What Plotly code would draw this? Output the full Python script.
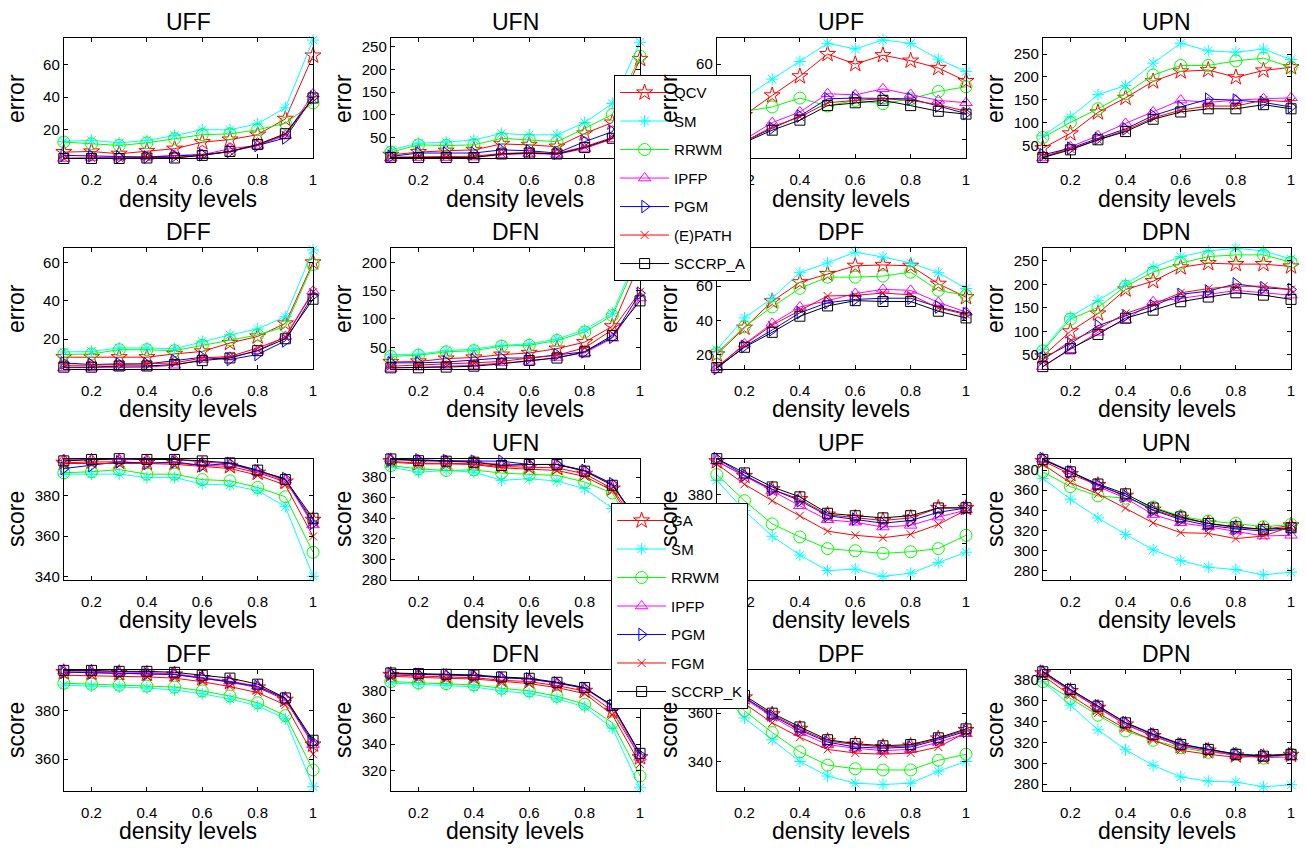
import plotly.graph_objects as go

density = [0.1, 0.2, 0.3, 0.4, 0.5, 0.6, 0.7, 0.8, 0.9, 1.0]
x_ticks = [0.2, 0.4, 0.6, 0.8, 1.0]
x_ticktext = ["0.2", "0.4", "0.6", "0.8", "1"]

err_methods = ["QCV", "SM", "RRWM", "IPFP", "PGM", "(E)PATH", "SCCRP_A"]
score_methods = ["GA", "SM", "RRWM", "IPFP", "PGM", "FGM", "SCCRP_K"]

# series order: first, SM, RRWM, IPFP, PGM, sixth, SCCRP
uff_err = [
    [6.3, 6.7, 5.3, 7.0, 8.4, 12.4, 14.0, 17.0, 26.7, 65.5],
    [12.9, 13.5, 12.0, 13.5, 16.5, 20.0, 20.0, 23.7, 33.5, 75.0],
    [12.5, 11.4, 10.4, 12.0, 14.5, 17.0, 17.5, 20.0, 24.0, 36.5],
    [2.4, 3.0, 3.2, 3.3, 4.3, 4.7, 8.4, 10.4, 16.5, 42.0],
    [4.3, 4.0, 3.3, 3.3, 4.0, 4.7, 6.7, 10.4, 15.0, 40.0],
    [2.6, 2.6, 2.5, 3.0, 3.0, 4.5, 6.5, 10.8, 17.0, 39.0],
    [2.4, 2.4, 2.4, 2.7, 2.7, 4.3, 6.7, 11.0, 17.6, 39.5],
]
ufn_err = [
    [12, 18, 21, 23, 36, 34, 30, 59, 83, 223],
    [23, 37.6, 40, 45, 59, 56, 56, 83, 125, 260],
    [18, 34, 32.5, 34, 48.5, 45, 41, 70, 101, 229],
    [5, 6, 6, 7, 12, 15, 13, 26, 47, 155],
    [8.5, 16, 16, 16, 23, 21, 16, 41, 63, 165],
    [7, 8, 8, 9, 15, 17, 15, 30, 50, 160],
    [6, 6, 6, 6, 14, 16, 14, 28, 48.5, 158],
]
upf_err = [
    [25, 33, 43.4, 53.5, 65.3, 60, 64.7, 61.8, 57.9, 51],
    [33, 42, 52, 61.4, 71, 68, 72.8, 71, 62.6, 56],
    [27, 35, 37.3, 42, 37.8, 40.8, 39, 41.6, 45.5, 48],
    [13, 20, 29, 34.6, 44.3, 43.7, 46.9, 43.9, 40.8, 39.5],
    [12, 19, 26, 32.5, 41.6, 42, 42, 41.6, 37.8, 33.8],
    [12, 19, 26.8, 32, 39.5, 40.8, 41.6, 40.8, 38.5, 35],
    [11, 18.5, 25, 30.3, 38, 39.5, 40.8, 38, 35, 33.5],
]
upn_err = [
    [43.5, 76, 122, 154, 190, 212, 215, 199, 214, 221],
    [71, 112, 161, 181, 230, 274, 257, 254, 261, 238],
    [67, 100, 130, 163, 204, 225, 225, 235, 241, 221],
    [22, 47, 71, 98, 123, 149, 144, 149, 152, 154],
    [29, 43.5, 65, 86, 115, 134, 151, 149, 144, 134],
    [25, 42, 62, 83, 110, 127, 136, 136, 149, 145],
    [23, 40, 62, 80, 107, 123, 130, 130, 139, 130],
]
dff_err = [
    [10.6, 10.6, 10.6, 10.6, 12.3, 13.6, 18.0, 21.4, 28.2, 60.0],
    [13.3, 13.6, 15.4, 15.4, 15.0, 18.8, 22.2, 25.3, 31.7, 66.5],
    [12.0, 12.3, 14.5, 14.5, 14.0, 16.7, 19.7, 22.2, 26.5, 59.0],
    [5.0, 5.0, 5.2, 5.4, 6.4, 9.4, 10.6, 14.0, 21.4, 45.0],
    [7.6, 6.8, 7.1, 7.1, 8.8, 10.6, 9.4, 12.0, 19.1, 42.8],
    [6.4, 6.4, 6.8, 7.1, 7.6, 10.2, 11.0, 15.4, 20.9, 44.5],
    [5.4, 5.4, 6.0, 6.0, 6.8, 8.8, 10.2, 14.0, 20.2, 40.8],
]
dfn_err = [
    [24, 25, 30, 32, 37, 40, 47.6, 59, 87, 200],
    [37, 38, 44, 47, 53.5, 56, 64.6, 81, 110, 225],
    [34, 36, 42, 44, 52, 53.5, 62, 77, 106, 215],
    [12.5, 15, 16.6, 18, 22.5, 25, 32, 40, 66, 137],
    [22.5, 22.5, 24, 28, 31, 31, 37, 42, 67.6, 145.5],
    [16.6, 18, 20.7, 22.5, 25, 31, 36, 49, 81, 148],
    [13.7, 13.7, 15, 16.6, 20.7, 26.6, 31, 42, 71, 132],
]
dpf_err = [
    [20.2, 35.8, 51.2, 62.3, 67.1, 71.9, 72.4, 71.9, 61.4, 53.6],
    [23.0, 41.5, 53.1, 67.9, 73.6, 79.9, 77.0, 73.6, 67.9, 58.7],
    [21.1, 36.4, 47.9, 58.8, 65.3, 65.3, 65.9, 68.2, 57.6, 54.7],
    [12.5, 26.3, 38.3, 47.9, 51.6, 55.7, 58.2, 57.6, 50.6, 44.9],
    [12.0, 24.9, 34.5, 44.5, 50.4, 52.3, 53.0, 53.0, 47.9, 44.0],
    [12.9, 25.9, 37.3, 46.0, 54.3, 54.7, 56.0, 55.0, 47.3, 43.5],
    [12.5, 24.4, 33.1, 42.5, 48.5, 51.6, 51.1, 51.1, 45.4, 41.5],
]
dpn_err = [
    [47, 100, 138, 189, 206.7, 236, 245, 243, 243, 238],
    [61, 131, 166, 201, 236, 259, 271, 276.6, 271, 254],
    [58.5, 126, 150.7, 196, 226, 245, 259, 262.6, 262.6, 247],
    [25, 61, 98, 124, 163, 170, 178.7, 187, 182, 177],
    [42.4, 73.9, 112, 133, 154, 178.7, 185.7, 201, 192.7, 189],
    [39, 79.4, 105, 138, 157.7, 182, 191, 196, 196, 189],
    [25, 63, 93.4, 128, 145, 163, 173, 182, 177, 168],
]
uff_score = [
    [396.3, 396.8, 396.8, 396.3, 396.3, 395.0, 394.6, 391.4, 387.0, 368.0],
    [390.7, 390.7, 390.7, 389.0, 389.0, 385.8, 385.3, 382.5, 374.6, 340.0],
    [391.4, 391.9, 393.0, 390.7, 390.7, 388.0, 387.4, 384.1, 379.5, 351.9],
    [398.0, 398.0, 398.0, 398.0, 398.0, 396.8, 395.8, 391.9, 387.7, 365.5],
    [393.5, 395.0, 396.8, 396.0, 396.8, 395.0, 396.0, 392.3, 388.5, 366.3],
    [396.0, 396.0, 396.3, 396.0, 395.6, 394.6, 393.5, 390.2, 385.3, 359.8],
    [397.3, 398.0, 398.4, 398.0, 398.0, 397.3, 396.3, 392.7, 388.0, 368.8],
]
ufn_score = [
    [395.5, 393.5, 393.5, 392.9, 390.3, 389.7, 389.0, 383.2, 368.7, 330],
    [389.7, 384.8, 386.5, 384.8, 376.8, 378.4, 376.1, 368.7, 349.4, 300],
    [391.3, 388.0, 386.5, 387.0, 383.9, 382.6, 381.6, 375.2, 364.5, 318],
    [397.5, 396.5, 396.0, 395.0, 392.0, 392.5, 392.5, 386.5, 373.0, 330],
    [396.8, 396.8, 396.0, 395.5, 395.5, 392.3, 392.3, 386.5, 373.5, 333],
    [394.5, 392.9, 392.9, 392.3, 389.0, 388.0, 386.5, 380.6, 367.0, 325],
    [397.7, 396.0, 395.5, 394.5, 391.3, 392.3, 392.3, 385.8, 372.0, 335],
]
upf_score = [
    [393.9, 387.8, 382.3, 378.2, 371.8, 370.5, 369.4, 370.5, 374.6, 374.6],
    [386.0, 373.5, 362.9, 355.1, 348.7, 349.3, 346.3, 347.6, 352.0, 356.3],
    [388.4, 377.6, 368.0, 362.6, 357.8, 356.9, 355.8, 356.5, 357.8, 363.3],
    [394.0, 387.8, 381.6, 375.5, 369.7, 368.7, 366.7, 367.4, 370.8, 373.7],
    [395.0, 388.2, 382.3, 377.6, 371.4, 370.0, 368.3, 369.4, 372.8, 374.6],
    [392.8, 384.4, 377.6, 371.4, 365.0, 363.3, 362.3, 363.7, 367.8, 373.7],
    [395.0, 389.1, 383.3, 379.2, 372.4, 371.4, 370.5, 371.4, 374.6, 374.7],
]
upn_score = [
    [389.2, 376.1, 365.2, 354.4, 340.6, 332.4, 326.9, 322.6, 321.0, 324.9],
    [371.8, 351.1, 332.4, 316.0, 300.6, 289.8, 283.2, 280.9, 275.7, 278.3],
    [378.4, 363.6, 354.4, 352.1, 343.3, 334.1, 329.2, 326.9, 323.6, 325.9],
    [391.0, 379.3, 363.6, 352.1, 335.7, 327.5, 323.6, 319.3, 314.4, 315.1],
    [391.5, 378.4, 365.2, 354.4, 340.0, 330.8, 324.9, 321.6, 319.3, 321.6],
    [385.9, 367.5, 356.4, 342.3, 327.5, 317.7, 317.0, 311.8, 314.4, 323.6],
    [390.5, 378.4, 366.2, 356.4, 342.3, 333.4, 326.9, 323.6, 321.0, 322.6],
]
dff_score = [
    [396.0, 395.8, 395.6, 395.3, 395.0, 393.5, 391.8, 389.6, 384.5, 366.0],
    [390.6, 390.2, 389.8, 389.4, 388.6, 387.0, 384.9, 382.0, 376.7, 348.6],
    [391.4, 391.0, 390.6, 390.2, 389.8, 388.2, 386.1, 383.3, 378.0, 355.5],
    [396.5, 396.3, 396.0, 395.8, 395.3, 393.9, 392.2, 390.2, 385.3, 366.0],
    [396.0, 395.8, 395.6, 395.3, 395.0, 393.5, 392.0, 390.0, 385.0, 367.0],
    [394.7, 394.5, 394.3, 394.0, 393.5, 392.0, 390.0, 387.5, 382.4, 362.0],
    [396.7, 396.7, 396.3, 396.3, 395.9, 394.7, 393.5, 391.0, 385.3, 367.8],
]
dfn_score = [
    [392, 391, 390.5, 390, 388, 387, 384, 380, 365, 330],
    [386, 385, 384.5, 383, 380, 378, 374, 368, 352, 307],
    [387, 386, 385.5, 384.5, 382, 380, 376, 370, 356, 316],
    [393, 392.5, 392, 391.5, 390, 389, 386, 382, 368, 330],
    [393, 392.5, 392, 391.5, 390, 389, 386, 382, 369, 332],
    [391, 390, 389.5, 389, 387, 385.5, 382.5, 378, 362, 325],
    [393.5, 393, 392.5, 392, 390.5, 389.5, 386.5, 382.5, 369, 333],
]
dpf_score = [
    [376, 366.5, 359.5, 353.5, 348.5, 347, 346, 346.5, 349.5, 353],
    [370, 358, 349, 340, 334, 331, 330.5, 331, 336, 340],
    [372, 361, 352, 344, 338.5, 337, 336.5, 336.5, 340.5, 343],
    [376, 366, 358.5, 352, 347, 345.5, 344.5, 345, 348, 351.5],
    [377, 366.5, 359, 353, 348, 346, 345.5, 346, 349, 352.5],
    [375, 364, 356, 350, 345, 343.5, 343, 343.5, 346, 352],
    [376.5, 367.3, 360, 354.3, 349, 347.4, 346.5, 347, 349.8, 353.5],
]
dpn_score = [
    [386, 369, 353, 337, 326, 316.5, 312, 307.5, 306, 308],
    [378, 355.6, 332, 313, 298, 287, 283, 282, 277.6, 279.5],
    [378, 362, 346, 331, 322, 315, 310.5, 308.6, 305, 308.6],
    [387, 369.5, 353.5, 337.5, 326, 317, 312, 307.5, 305.5, 306],
    [388, 370.5, 355, 339, 328, 318.5, 313.5, 309, 307.5, 309],
    [383.8, 365, 348, 333, 322, 312.4, 308.6, 305.8, 306.8, 308.6],
    [387.5, 370.6, 354.6, 338.7, 327.4, 318, 313.3, 308.6, 306.8, 308.6],
]

colors = ["#ff0000", "#00ffff", "#00ff00", "#ff00ff", "#0000ff", "#ff0000", "#000000"]
symbols = ["star-open", "asterisk-open", "circle-open", "triangle-up-open",
           "triangle-right-open", "x-thin-open", "square-open"]
msizes = [12, 10, 12, 11, 11, 8, 10]

# (title, ylabel, data, yrange, yticks, row, col, kind)
panels = [
    ("UFF", "error", uff_err, [2.4, 76.5], [20, 40, 60], 0, 0, "e"),
    ("UFN", "error", ufn_err, [4, 270], [50, 100, 150, 200, 250], 0, 1, "e"),
    ("UPF", "error", upf_err, [10, 74], [20, 40, 60], 0, 2, "e"),
    ("UPN", "error", upn_err, [21, 286], [50, 100, 150, 200, 250], 0, 3, "e"),
    ("DFF", "error", dff_err, [4.7, 67.7], [20, 40, 60], 1, 0, "e"),
    ("DFN", "error", dfn_err, [12.5, 226], [50, 100, 150, 200], 1, 1, "e"),
    ("DPF", "error", dpf_err, [12, 82.5], [20, 40, 60], 1, 2, "e"),
    ("DPN", "error", dpn_err, [21, 278], [50, 100, 150, 200, 250], 1, 3, "e"),
    ("UFF", "score", uff_score, [338.4, 398.4], [340, 360, 380], 2, 0, "s"),
    ("UFN", "score", ufn_score, [280, 398], [280, 300, 320, 340, 360, 380], 2, 1, "s"),
    ("UPF", "score", upf_score, [345, 395], [360, 380], 2, 2, "s"),
    ("UPN", "score", upn_score, [271, 391.5], [280, 300, 320, 340, 360, 380], 2, 3, "s"),
    ("DFF", "score", dff_score, [347, 397], [360, 380], 3, 0, "s"),
    ("DFN", "score", dfn_score, [305, 396], [320, 340, 360, 380], 3, 1, "s"),
    ("DPF", "score", dpf_score, [328, 378], [340, 360], 3, 2, "s"),
    ("DPN", "score", dpn_score, [274, 389.5], [280, 300, 320, 340, 360, 380], 3, 3, "s"),
]

W, H = 1306, 853
col_left = [64, 392, 719, 1046]
col_right = [314, 642, 969, 1295]
row_top = [38, 250, 463, 676]
row_bot = [160, 372, 585, 798]
FONT = "Liberation Sans, Arial, Helvetica, sans-serif"

fig = go.Figure()
layout = {}
annotations = []
legend_done = {"e": False, "s": False}

for i, (title, ylab, data, yr, yt, r, c, kind) in enumerate(panels):
    n = i + 1
    xa = "x" if n == 1 else f"x{n}"
    ya = "y" if n == 1 else f"y{n}"
    names = err_methods if kind == "e" else score_methods
    show = not legend_done[kind]
    legend_done[kind] = True
    for k in range(7):
        fig.add_trace(go.Scatter(
            x=density, y=data[k], xaxis=xa, yaxis=ya,
            mode="lines+markers", name=names[k],
            legend="legend" if kind == "e" else "legend2",
            legendgroup=f"{kind}{k}", showlegend=show,
            line=dict(color=colors[k], width=1),
            marker=dict(symbol=symbols[k], size=msizes[k], color=colors[k],
                        line=dict(color=colors[k], width=1)),
            cliponaxis=False,
        ))
    x0, x1 = col_left[c] / W, col_right[c] / W
    y0, y1 = 1 - row_bot[r] / H, 1 - row_top[r] / H
    axis_common = dict(showline=True, linecolor="black", linewidth=1, mirror="ticks",
                       ticks="inside", ticklen=4, tickcolor="black", showgrid=False,
                       zeroline=False, tickfont=dict(family=FONT, size=15, color="black"))
    layout["xaxis" if n == 1 else f"xaxis{n}"] = dict(
        domain=[x0, x1], anchor=ya, range=[0.1, 1.0], tickvals=x_ticks,
        ticktext=x_ticktext, ticklabelstandoff=8, **axis_common)
    layout["yaxis" if n == 1 else f"yaxis{n}"] = dict(
        domain=[y0, y1], anchor=xa, range=yr, tickvals=yt, **axis_common)
    cx = (col_left[c] + col_right[c]) / 2 / W
    annotations.append(dict(text=title, x=cx, y=1 - (row_top[r] - 16) / H, xref="paper",
                            yref="paper", showarrow=False, xanchor="center", yanchor="middle",
                            font=dict(family=FONT, size=23, color="black")))
    annotations.append(dict(text="density levels", x=cx, y=1 - (row_bot[r] + 41) / H,
                            xref="paper", yref="paper", showarrow=False, xanchor="center",
                            yanchor="middle", font=dict(family=FONT, size=23, color="black")))
    annotations.append(dict(text=ylab, x=(col_left[c] - 48) / W,
                            y=1 - (row_top[r] + row_bot[r]) / 2 / H, xref="paper",
                            yref="paper", showarrow=False, textangle=-90, xanchor="center",
                            yanchor="middle", font=dict(family=FONT, size=23, color="black")))

legend_common = dict(bgcolor="white", bordercolor="black", borderwidth=1,
                     font=dict(family=FONT, size=15, color="black"),
                     xanchor="left", yanchor="top", itemwidth=49, tracegroupgap=6)
fig.update_layout(
    width=W, height=H, margin=dict(l=0, r=0, t=0, b=0),
    paper_bgcolor="white", plot_bgcolor="white",
    annotations=annotations,
    legend=dict(x=616 / W, y=1 - 76 / H, **legend_common),
    legend2=dict(x=613 / W, y=1 - 508 / H, **legend_common),
    **layout,
)
fig.write_html("out.html")
